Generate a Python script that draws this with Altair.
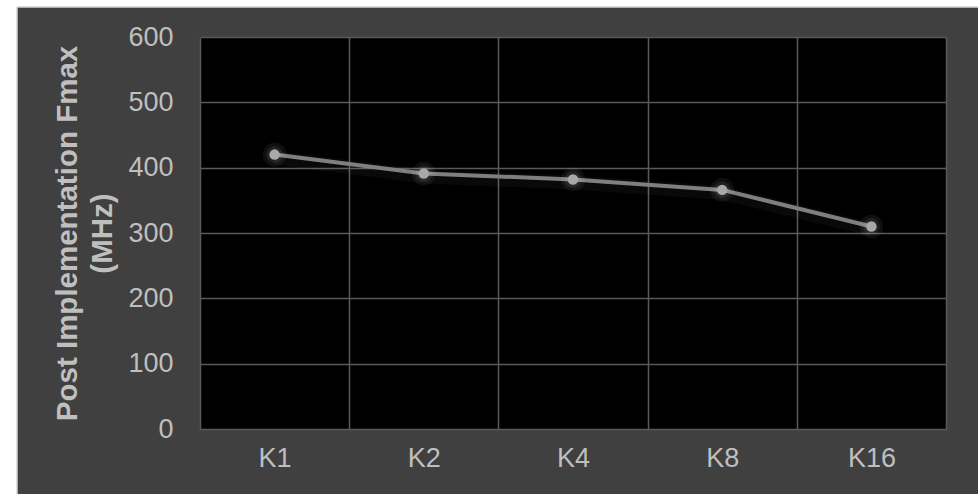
import altair as alt
import pandas as pd

categories = ["K1", "K2", "K4", "K8", "K16"]
fmax = [420, 391, 382, 366, 310]
y_ticks = [0, 100, 200, 300, 400, 500, 600]
y_title = ["Post Implementation Fmax", "(MHz)"]

df = pd.DataFrame({"cat": categories, "fmax": fmax})
one = pd.DataFrame({"d": [0]})

FONT = "Liberation Sans"
LABEL = "#bfbfbf"

x_enc = alt.X(
    "cat:N",
    sort=categories,
    bandPosition=0.5,
    scale=alt.Scale(type="band", paddingInner=0, paddingOuter=0),
    axis=alt.Axis(
        title=None, tickBand="extent", grid=True, domain=False, ticks=False,
        labelAngle=0, labelFontSize=27, labelColor=LABEL, labelFont=FONT,
        labelPadding=16, gridColor="#595959", gridWidth=1.5,
    ),
)
y_enc = alt.Y(
    "fmax:Q",
    scale=alt.Scale(domain=[0, 600], nice=False),
    axis=alt.Axis(
        values=y_ticks, title=y_title, grid=True, domain=False, ticks=False,
        labelFontSize=27, labelColor=LABEL, labelFont=FONT, labelPadding=27,
        gridColor="#595959", gridWidth=1.5,
        titleFontSize=29.5, titleFont=FONT, titleFontWeight="bold", titleColor=LABEL,
        titleLineHeight=35, titleAngle=270, titleBaseline="top", titleAlign="center",
        titleX=-147, titleY=196,
    ),
)

base = alt.Chart(df)

glow_line = base.mark_line(color="#ffffff", strokeWidth=14, opacity=0.035, yOffset=3).encode(x=x_enc, y=y_enc)
line = base.mark_line(color="#7f7f7f", strokeWidth=4).encode(x=x_enc, y=y_enc)
glow1 = base.mark_circle(color="#ffffff", size=560, opacity=0.06).encode(x=x_enc, y=y_enc)
glow2 = base.mark_circle(color="#ffffff", size=280, opacity=0.08).encode(x=x_enc, y=y_enc)
pts = base.mark_circle(color="#a8a8a8", size=110, opacity=1).encode(x=x_enc, y=y_enc)

strip_left = alt.Chart(one).mark_rect(color="#ffffff").encode(
    x=alt.value(-200), x2=alt.value(-183), y=alt.value(-37), y2=alt.value(457))
strip_top = alt.Chart(one).mark_rect(color="#ffffff").encode(
    x=alt.value(-200), x2=alt.value(778), y=alt.value(-37), y2=alt.value(-30))
edge_left = alt.Chart(one).mark_rule(color="#d4d4d4", strokeWidth=1.5).encode(
    x=alt.value(-183), y=alt.value(-30), y2=alt.value(457))
edge_top = alt.Chart(one).mark_rule(color="#d4d4d4", strokeWidth=1.5).encode(
    x=alt.value(-183), x2=alt.value(778), y=alt.value(-30))

chart = alt.layer(
    strip_left, strip_top, edge_left, edge_top, glow_line, line, glow1, glow2, pts
).properties(
    width=746,
    height=392,
    padding={"left": 200, "top": 37, "right": 32, "bottom": 65},
    autosize=alt.AutoSizeParams(type="none"),
    background="#404040",
).configure_view(fill="#000000", stroke=None)

chart.save("out.html", embed_options={"renderer": "svg", "actions": False})
